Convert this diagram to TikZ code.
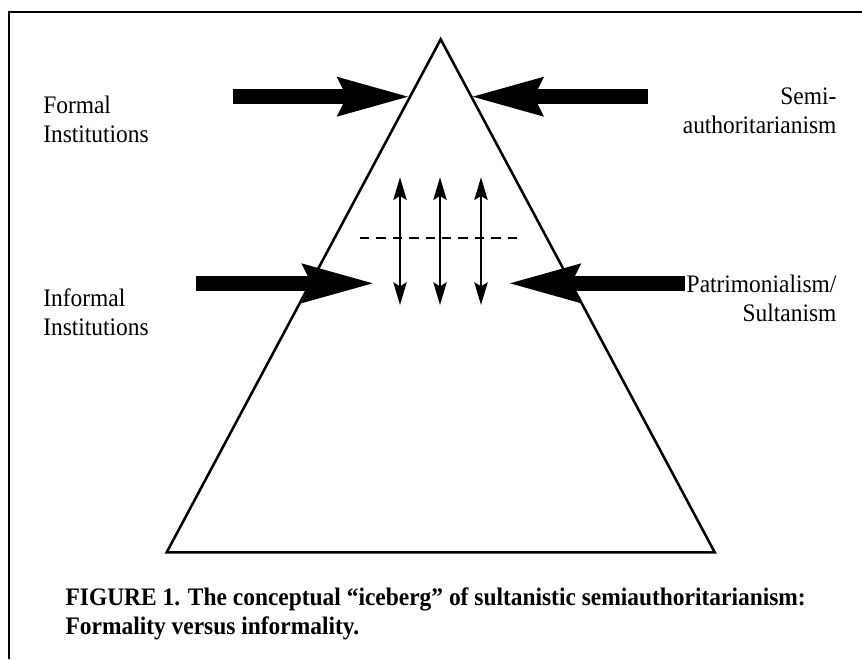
\documentclass[tikz,border=0pt]{standalone}
\usepackage{fontspec}
\setmainfont{Liberation Serif}[FakeStretch=0.93]
\usetikzlibrary{arrows.meta}

\begin{document}
\begin{tikzpicture}[x=0.75pt,y=-0.75pt,
        sidetext/.style={inner sep=0pt,font=\fontsize{18.9pt}{21.75pt}\selectfont},
        captext/.style={sidetext,font=\fontsize{18.9pt}{21.75pt}\selectfont\bfseries},
        bigarrow/.style={line width=11.25pt,-{Stealth[length=53.5pt,width=30pt,inset=7.5pt,line width=0pt]}},
        twoway/.style={line width=1.5pt,{Stealth[length=17pt,width=10pt,inset=3pt]}-{Stealth[length=17pt,width=10pt,inset=3pt]}}]
        \useasboundingbox (0,0) rectangle (862,659);
        \draw[line width=1.5pt] (9,659) -- (9,12) -- (862,12);
        % the iceberg
        \coordinate (apex) at (440.7,39.3);
        \coordinate (baseleft) at (166.7,552.3);
        \coordinate (baseright) at (714.7,552.3);
        \draw[line width=1.9pt] (apex) -- (baseleft) -- (baseright) -- cycle;
        % pressure from the sides
        \coordinate (formalstart) at (233,96.7);
        \coordinate (formaltip) at (408,96.7);
        \coordinate (semistart) at (648,96.7);
        \coordinate (semitip) at (472.7,96.7);
        \coordinate (informalstart) at (196,283.3);
        \coordinate (informaltip) at (372.7,283.3);
        \coordinate (patristart) at (685,283.3);
        \coordinate (patritip) at (510,283.3);
        \draw[bigarrow] (formalstart) -- (formaltip);
        \draw[bigarrow] (semistart) -- (semitip);
        \draw[bigarrow] (informalstart) -- (informaltip);
        \draw[bigarrow] (patristart) -- (patritip);
        % waterline and exchange
        \coordinate (waterleft) at (360,238.3);
        \coordinate (waterright) at (520.7,238.3);
        \draw[line width=1.7pt,dash pattern=on 7.1pt off 5.2pt] (waterleft) -- (waterright);
        \foreach \x [count=\i] in {400,440,481} {
            \coordinate (up\i) at (\x,177.3);
            \coordinate (down\i) at (\x,305);
            \draw[twoway] (up\i) -- (down\i);
        }
        % labels
        \node[sidetext,anchor=base west,align=left] (formal) at (43,142.3) {Formal\\Institutions};
        \node[sidetext,anchor=base east,align=right] (semi) at (836.7,133.3) {Semi-\\authoritarianism};
        \node[sidetext,anchor=base west,align=left] (informal) at (43,335) {Informal\\Institutions};
        \node[sidetext,anchor=base east,align=right] (patri) at (836.7,321.7) {Patrimonialism/\\Sultanism};
        \node[captext,anchor=base east,align=left] (caption) at (806,634) {FIGURE 1. The conceptual “iceberg” of sultanistic semiauthoritarianism:\\Formality versus informality.};
    \end{tikzpicture}
\end{document}
